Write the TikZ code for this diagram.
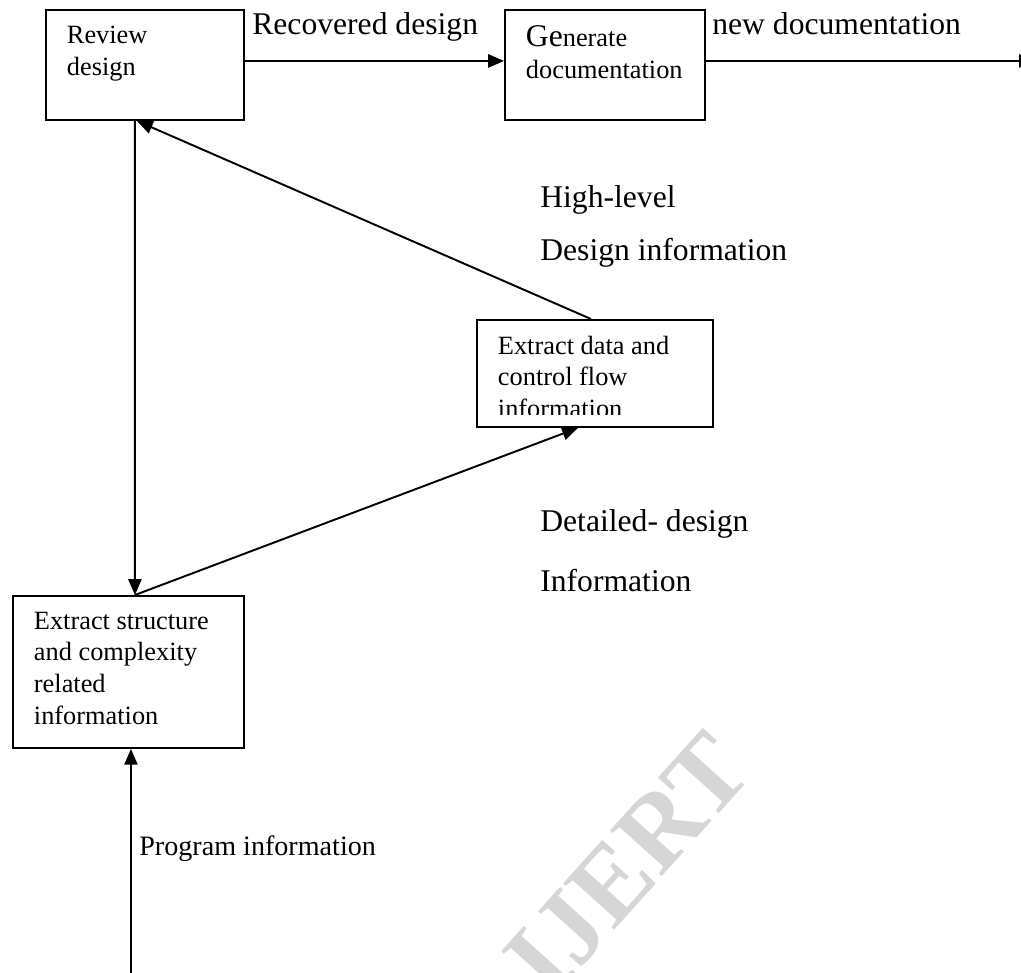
\documentclass[tikz,border=0pt]{standalone}
\usepackage{fontspec}
\setmainfont{Liberation Serif}
\usetikzlibrary{arrows.meta, positioning, calc}
\definecolor{wmgray}{RGB}{214,214,214}

\newcommand{\boxtext}[3]{\parbox[t][#2][t]{#1}{#3}}

\begin{document}
\begin{tikzpicture}[x=0.02cm, y=-0.02cm,
    box/.style={draw, line width=1.1pt, anchor=north west, inner xsep=0.42cm, inner ysep=0.32cm, font=\fontsize{15}{18}\selectfont},
    lbl/.style={anchor=base west, inner sep=0pt, font=\fontsize{18}{22}\selectfont},
    flow/.style={line width=1.1pt, -{Triangle[length=9pt, width=7.5pt]}}]
\useasboundingbox (0,0) rectangle (1021,973);

% Watermark
\node[rotate=48, text=wmgray, font=\fontsize{60}{60}\selectfont\bfseries] (watermark) at (628,864) {IJERT};

% Boxes
\node[box] (review) at (45,9) {\boxtext{3.12cm}{1.56cm}{Review\\design}};
\node[box] (generate) at (504,9) {\boxtext{3.16cm}{1.56cm}{{\fontsize{18}{18}\selectfont Ge}nerate\\documentation}};
\node[box, minimum width=4.72cm, minimum height=2.14cm] (dataflow) at (476,319) {};
\begin{scope}
    \clip (dataflow.north west) rectangle ([yshift=0.26cm]dataflow.south east);
    \node[box, draw=none] (dataflowtext) at (476,319) {\boxtext{3.88cm}{1.5cm}{Extract data and\\control flow\\information}};
\end{scope}
\node[box] (structure) at (12,595) {\boxtext{3.78cm}{2.4cm}{Extract structure\\and complexity\\related\\information}};

% Free ends
\path ([yshift=0.08cm]generate.east) ++(329,0) coordinate (docout);
\path ([xshift=0.05cm]structure.south) ++(0,240) coordinate (progin);

% Connectors
\draw[flow] ([yshift=0.08cm]review.east) -- ([yshift=0.08cm]generate.west);
\draw[flow] ([yshift=0.08cm]generate.east) -- (docout);
\draw[flow] ([xshift=-0.2cm]review.south) -- ([xshift=0.13cm]structure.north);
\draw[flow] ([xshift=-0.08cm]dataflow.north) -- ([xshift=-0.16cm]review.south);
\draw[flow] ([xshift=0.13cm]structure.north) -- ([xshift=-0.34cm]dataflow.south);
\draw[flow] (progin) -- ([xshift=0.05cm]structure.south);

% Labels
\node[lbl] (recovered) at (252,35) {Recovered design};
\node[lbl] (newdoc) at (712,35) {new documentation};
\node[lbl] (highlevel) at (540,208) {High-level};
\node[lbl] (designinfo) at (540,260) {Design information};
\node[lbl] (detailed) at (540,531) {Detailed- design};
\node[lbl] (information) at (540,591) {Information};
\node[lbl, font=\fontsize{16}{20}\selectfont] (programinfo) at (139,855) {Program information};
\end{tikzpicture}
\end{document}
